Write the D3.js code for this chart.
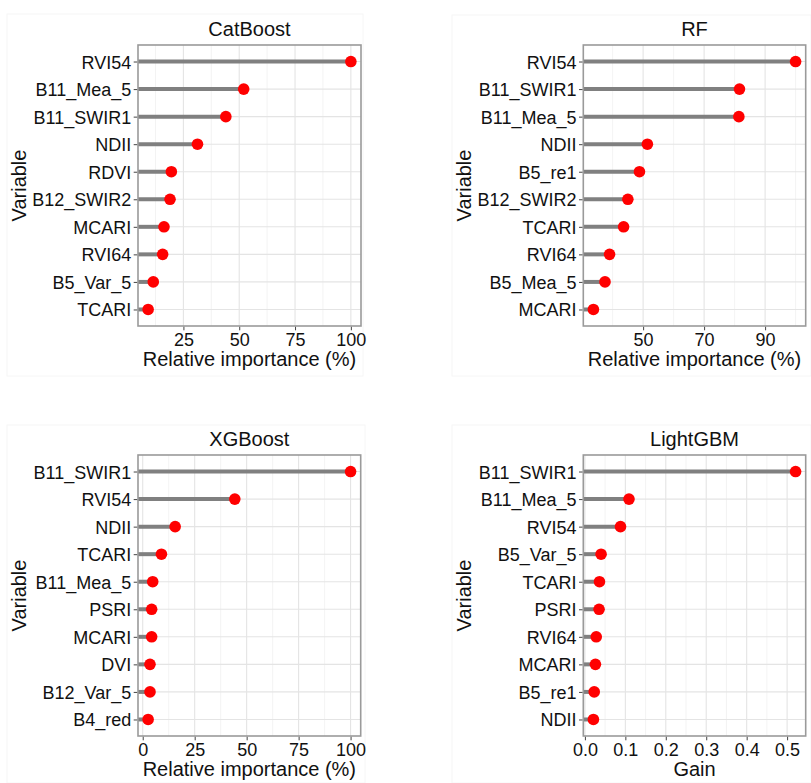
<!DOCTYPE html>
<html>
<head>
<meta charset="utf-8">
<script src="https://cdn.jsdelivr.net/npm/d3@7"></script>
<style>
  body { margin: 0; background: #fff; }
  svg text { font-family: "Liberation Sans", Arial, sans-serif; fill: #111; }
</style>
</head>
<body>
<svg id="chart" width="811" height="783"></svg>
<script>
// Variables for each model, top to bottom, with the importance.
var catboostVars = ['RVI54', 'B11_Mea_5', 'B11_SWIR1', 'NDII', 'RDVI', 'B12_SWIR2',
  'MCARI', 'RVI64', 'B5_Var_5', 'TCARI'];
var catboostValues = [100, 52, 44, 31.3, 19.6, 19.0, 16.3, 15.7, 11.5, 9.2];
var catboostTicks = [25, 50, 75, 100];

var rfVars = ['RVI54', 'B11_SWIR1', 'B11_Mea_5', 'NDII', 'B5_re1', 'B12_SWIR2',
  'TCARI', 'RVI64', 'B5_Mea_5', 'MCARI'];
var rfValues = [100, 81.6, 81.4, 51.4, 48.8, 45.0, 43.6, 39.0, 37.5, 33.7];
var rfTicks = [50, 70, 90];

var xgbVars = ['B11_SWIR1', 'RVI54', 'NDII', 'TCARI', 'B11_Mea_5', 'PSRI',
  'MCARI', 'DVI', 'B12_Var_5', 'B4_red'];
var xgbValues = [100, 44.3, 15.6, 9.0, 4.8, 4.3, 4.3, 3.5, 3.5, 2.6];
var xgbTicks = [0, 25, 50, 75, 100];

var lgbmVars = ['B11_SWIR1', 'B11_Mea_5', 'RVI54', 'B5_Var_5', 'TCARI', 'PSRI',
  'RVI64', 'MCARI', 'B5_re1', 'NDII'];
var lgbmValues = [0.521, 0.109, 0.088, 0.040, 0.036, 0.035, 0.028, 0.026, 0.023, 0.021];
var lgbmTicks = [0, 0.1, 0.2, 0.3, 0.4, 0.5];

var vi = {

  // Lollipop colours.
  SEGMENT_COLOR: '#808080',
  DOT_COLOR: '#ff0000',
  DOT_RADIUS: 5.8,

  /**
   * Draw one lollipop panel.
   * @param cfg Object panel box, title, data and axis options.
   */
  drawPanel: function(svg, cfg) {
    var g = svg.append('g');
    var w = cfg.right - cfg.left, h = cfg.bottom - cfg.top;

    // Faint plot background frame.
    g.append('rect')
      .attr('x', cfg.bg[0]).attr('y', cfg.bg[1])
      .attr('width', cfg.bg[2] - cfg.bg[0]).attr('height', cfg.bg[3] - cfg.bg[1])
      .attr('fill', 'none').attr('stroke', '#f6f6f6');

    // ggplot style 5% expansion of the continuous scale.
    var lo = d3.min(cfg.values), hi = d3.max(cfg.values), pad = (hi - lo) * 0.05;
    var x = d3.scaleLinear().domain([lo - pad, hi + pad]).range([cfg.left, cfg.right]);
    var y = d3.scalePoint().domain(cfg.vars).range([cfg.top, cfg.bottom]).padding(0.6);

    // Minor grid halfway between breaks.
    var step = cfg.ticks[1] - cfg.ticks[0];
    var minor = [];
    for (var v = cfg.ticks[0] - step * 2.5; v <= hi + pad; v += step) {
      if (v >= lo - pad) minor.push(v);
    }
    g.selectAll('.minor').data(minor).enter().append('line')
      .attr('x1', function(d) { return x(d); }).attr('x2', function(d) { return x(d); })
      .attr('y1', cfg.top).attr('y2', cfg.bottom)
      .attr('stroke', '#f0f0f0').attr('stroke-width', 0.8);

    g.selectAll('.major').data(cfg.ticks).enter().append('line')
      .attr('x1', function(d) { return x(d); }).attr('x2', function(d) { return x(d); })
      .attr('y1', cfg.top).attr('y2', cfg.bottom)
      .attr('stroke', '#e4e4e4').attr('stroke-width', 1.1);

    g.selectAll('.hgrid').data(cfg.vars).enter().append('line')
      .attr('x1', cfg.left).attr('x2', cfg.right)
      .attr('y1', function(d) { return y(d); }).attr('y2', function(d) { return y(d); })
      .attr('stroke', '#e4e4e4').attr('stroke-width', 1.1);

    // Lollipop sticks and heads.
    var rows = cfg.vars.map(function(d, i) { return { name: d, value: cfg.values[i] }; });
    g.selectAll('.stick').data(rows).enter().append('line')
      .attr('x1', cfg.left).attr('x2', function(d) { return x(d.value); })
      .attr('y1', function(d) { return y(d.name); }).attr('y2', function(d) { return y(d.name); })
      .attr('stroke', vi.SEGMENT_COLOR).attr('stroke-width', 4);

    g.selectAll('.dot').data(rows).enter().append('circle')
      .attr('cx', function(d) { return x(d.value); })
      .attr('cy', function(d) { return y(d.name); })
      .attr('r', vi.DOT_RADIUS)
      .attr('fill', vi.DOT_COLOR);

    // Panel border.
    g.append('rect')
      .attr('x', cfg.left).attr('y', cfg.top).attr('width', w).attr('height', h)
      .attr('fill', 'none').attr('stroke', '#9a9a9a').attr('stroke-width', 1.6);

    // Axes.
    var xAxis = g.append('g')
      .attr('transform', 'translate(0,' + (cfg.bottom + 0.8) + ')')
      .call(d3.axisBottom(x).tickValues(cfg.ticks).tickFormat(cfg.format)
        .tickSize(3.5).tickPadding(2.5));
    var yAxis = g.append('g')
      .attr('transform', 'translate(' + (cfg.left - 0.8) + ',0)')
      .call(d3.axisLeft(y).tickSize(3.5).tickPadding(2.5));
    [xAxis, yAxis].forEach(function(a) {
      a.select('.domain').remove();
      a.selectAll('line').attr('stroke', '#444');
      a.selectAll('text').style('font-size', '18px').attr('fill', '#111');
    });
    yAxis.selectAll('text').attr('dy', '0.36em');
    xAxis.selectAll('text').attr('dy', '0.71em');

    // Titles.
    g.append('text')
      .attr('x', (cfg.left + cfg.right) / 2).attr('y', cfg.top - 9)
      .attr('text-anchor', 'middle').style('font-size', '20px')
      .text(cfg.title);
    g.append('text')
      .attr('x', (cfg.left + cfg.right) / 2).attr('y', cfg.bottom + 40)
      .attr('text-anchor', 'middle').style('font-size', '20px')
      .text(cfg.xLabel);
    g.append('text')
      .attr('transform', 'translate(' + (cfg.left - 112) + ',' + ((cfg.top + cfg.bottom) / 2) + ') rotate(-90)')
      .attr('text-anchor', 'middle').style('font-size', '20px')
      .text('Variable');
  },

  init: function() {
    var svg = d3.select('#chart');
    var pct = d3.format('d');

    vi.drawPanel(svg, { title: 'CatBoost', vars: catboostVars, values: catboostValues,
      ticks: catboostTicks, format: pct, xLabel: 'Relative importance (%)',
      left: 138, right: 361, top: 45, bottom: 326, bg: [7, 14, 363, 376] });

    vi.drawPanel(svg, { title: 'RF', vars: rfVars, values: rfValues,
      ticks: rfTicks, format: pct, xLabel: 'Relative importance (%)',
      left: 583.3, right: 805.7, top: 45, bottom: 326, bg: [452, 15, 811, 376] });

    vi.drawPanel(svg, { title: 'XGBoost', vars: xgbVars, values: xgbValues,
      ticks: xgbTicks, format: pct, xLabel: 'Relative importance (%)',
      left: 138, right: 360.7, top: 455, bottom: 736, bg: [7, 425, 365, 783] });

    vi.drawPanel(svg, { title: 'LightGBM', vars: lgbmVars, values: lgbmValues,
      ticks: lgbmTicks, format: d3.format('.1f'), xLabel: 'Gain',
      left: 583.3, right: 805.7, top: 455, bottom: 736, bg: [452, 425, 811, 783] });
  }
};

vi.init();
</script>
</body>
</html>
